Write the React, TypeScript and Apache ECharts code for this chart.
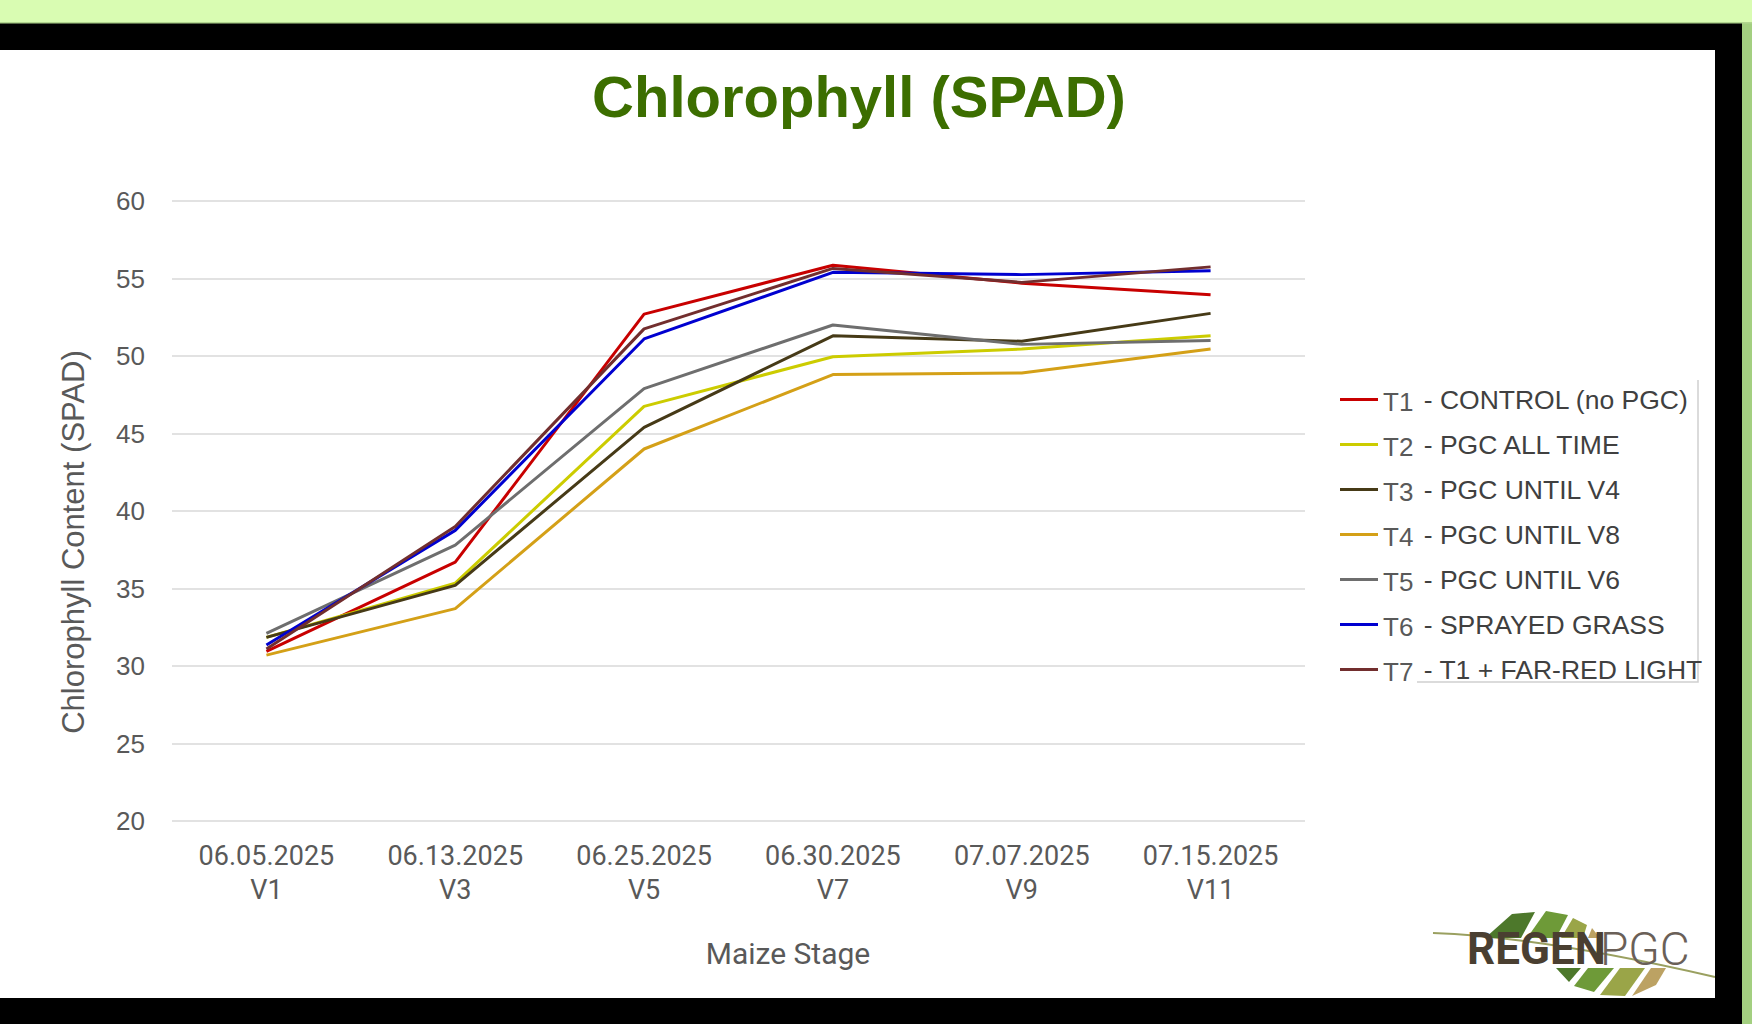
import React, { useEffect, useRef } from "react";
import * as echarts from "echarts";

// ---------- data ----------
const dates = ["06.05.2025", "06.13.2025", "06.25.2025", "06.30.2025", "07.07.2025", "07.15.2025"];
const stages = ["V1", "V3", "V5", "V7", "V9", "V11"];
const seriesNames = ["T1", "T2", "T3", "T4", "T5", "T6", "T7"];
const seriesLabels = [
  "CONTROL (no PGC)",
  "PGC ALL TIME",
  "PGC UNTIL V4",
  "PGC UNTIL V8",
  "PGC UNTIL V6",
  "SPRAYED GRASS",
  "T1 + FAR-RED LIGHT",
];
const t1 = [30.95, 36.7, 52.7, 55.85, 54.7, 53.95];
const t2 = [31.85, 35.35, 46.75, 49.95, 50.45, 51.3];
const t3 = [31.85, 35.2, 45.4, 51.3, 50.95, 52.75];
const t4 = [30.7, 33.7, 44.0, 48.8, 48.9, 50.45];
const t5 = [32.1, 37.8, 47.9, 52.0, 50.75, 51.0];
const t6 = [31.35, 38.75, 51.1, 55.4, 55.25, 55.5];
const t7 = [31.1, 39.0, 51.75, 55.65, 54.75, 55.75];
const seriesData = [t1, t2, t3, t4, t5, t6, t7];
const yMin = 20;
const yMax = 60;
const yStep = 5;
const titleText = "Chlorophyll (SPAD)";
const yTitle = "Chlorophyll Content (SPAD)";
const xTitle = "Maize Stage";

// ---------- styles ----------
const colors = ["#c80000", "#cccc00", "#463a17", "#d4a017", "#6e6e6e", "#0000d0", "#722e2e"];
const SANS = "'Liberation Sans', Arial, sans-serif";
const NARROW = "Roboto, 'Liberation Sans', sans-serif";

export default function App() {
  const ref = useRef<HTMLDivElement>(null);

  useEffect(() => {
    if (!ref.current) return;
    const chart = echarts.init(ref.current, null, { renderer: "svg" });

    const series = seriesNames.map((n, i) => ({
      name: n,
      type: "line",
      data: seriesData[i],
      symbol: "none",
      showSymbol: false,
      lineStyle: { width: 3, color: colors[i] },
      itemStyle: { color: colors[i] },
      z: 2 + i,
    }));

    const descByName: Record<string, string> = {};
    seriesNames.forEach((n, i) => (descByName[n] = seriesLabels[i]));

    const frame = [
      { type: "rect", shape: { x: 0, y: 0, width: 1752, height: 23 }, style: { fill: "#d9fcb2" }, z: 100 },
      { type: "rect", shape: { x: 0, y: 22, width: 1752, height: 1.5 }, style: { fill: "#b2d68f" }, z: 101 },
      { type: "rect", shape: { x: 0, y: 23, width: 1742, height: 27 }, style: { fill: "#000000" }, z: 100 },
      { type: "rect", shape: { x: 1715, y: 23, width: 27, height: 1001 }, style: { fill: "#000000" }, z: 100 },
      { type: "rect", shape: { x: 1742, y: 23, width: 10, height: 1001 }, style: { fill: "#a3cf80" }, z: 100 },
      { type: "rect", shape: { x: 0, y: 998, width: 1742, height: 26 }, style: { fill: "#000000" }, z: 100 },
    ];

    const logo = [
      {
        type: "bezierCurve",
        shape: { x1: 1433, y1: 933, cpx1: 1520, cpy1: 936, cpx2: 1620, cpy2: 955, x2: 1715, y2: 977 },
        style: { stroke: "#9aa060", lineWidth: 2, fill: "none" },
        z: 50,
      },
      { type: "polygon", shape: { points: [[1485, 938], [1521, 938], [1535, 912], [1512, 914]] }, style: { fill: "#4d782b" }, z: 51 },
      { type: "polygon", shape: { points: [[1527, 938], [1556, 938], [1568, 915], [1546, 911]] }, style: { fill: "#6e9a38" }, z: 51 },
      { type: "polygon", shape: { points: [[1561, 938], [1583, 938], [1587, 925], [1573, 918]] }, style: { fill: "#9aa548" }, z: 51 },
      { type: "polygon", shape: { points: [[1588, 938], [1600, 938], [1592, 928]] }, style: { fill: "#bca263" }, z: 51 },
      { type: "polygon", shape: { points: [[1556, 968], [1581, 968], [1569, 982]] }, style: { fill: "#4d782b" }, z: 51 },
      { type: "polygon", shape: { points: [[1588, 968], [1614, 968], [1594, 992], [1574, 986]] }, style: { fill: "#6e9a38" }, z: 51 },
      { type: "polygon", shape: { points: [[1620, 968], [1645, 968], [1625, 996], [1600, 995]] }, style: { fill: "#9aa548" }, z: 51 },
      { type: "polygon", shape: { points: [[1651, 968], [1666, 968], [1656, 985], [1632, 996]] }, style: { fill: "#bca263" }, z: 51 },
      {
        type: "text",
        x: 1467,
        y: 949,
        style: { text: "REGEN", fill: "#4a3f31", font: "bold 44px Roboto, sans-serif", align: "left", verticalAlign: "middle" },
        z: 52,
      },
      {
        type: "text",
        x: 1600,
        y: 949,
        style: { text: "PGC", fill: "#6a6058", font: "300 46px Roboto, sans-serif", align: "left", verticalAlign: "middle" },
        z: 52,
      },
    ];

    const texts = [
      {
        type: "text",
        x: 859,
        y: 96,
        style: { text: titleText, fill: "#3c6e00", font: `bold 58px ${SANS}`, align: "center", verticalAlign: "middle" },
      },
      {
        type: "text",
        x: 73,
        y: 542,
        rotation: Math.PI / 2,
        style: { text: yTitle, fill: "#595959", font: `31px ${SANS}`, align: "center", verticalAlign: "middle" },
      },
      {
        type: "text",
        x: 788,
        y: 953,
        style: { text: xTitle, fill: "#595959", font: `30px ${NARROW}`, align: "center", verticalAlign: "middle" },
      },
      {
        type: "polyline",
        shape: { points: [[1698, 380], [1698, 682], [1417, 682]] },
        style: { stroke: "#d0d0d0", lineWidth: 1.5, fill: "none" },
      },
    ];

    chart.setOption({
      animation: false,
      backgroundColor: "#ffffff",
      grid: { left: 172, right: 447, top: 201, bottom: 203, containLabel: false },
      xAxis: {
        type: "category",
        data: dates.map((d, i) => `${d}\n${stages[i]}`),
        boundaryGap: true,
        axisLine: { show: false },
        axisTick: { show: false },
        axisLabel: {
          color: "#595959",
          fontSize: 27,
          fontFamily: NARROW,
          lineHeight: 34,
          margin: 18,
          interval: 0,
        },
      },
      yAxis: {
        type: "value",
        min: yMin,
        max: yMax,
        interval: yStep,
        axisLine: { show: false },
        axisTick: { show: false },
        splitLine: { lineStyle: { color: "#d9d9d9", width: 1.5 } },
        axisLabel: { color: "#595959", fontSize: 26, fontFamily: SANS, margin: 27 },
      },
      legend: {
        orient: "vertical",
        left: 1335,
        top: 379,
        icon: "rect",
        itemWidth: 38,
        itemHeight: 3,
        itemGap: 14,
        data: seriesNames,
        formatter: (name: string) => `{t|${name}}{d| - ${descByName[name]}}`,
        textStyle: {
          rich: {
            t: { fontSize: 26, color: "#595959", fontFamily: SANS, lineHeight: 30, padding: [5, 3, 0, 0] },
            d: { fontSize: 26.5, color: "#404040", fontFamily: SANS, lineHeight: 30 },
          },
        },
      },
      graphic: { elements: [...frame, ...logo, ...texts] },
      series,
    });

    return () => chart.dispose();
  }, []);

  return (
    <div
      ref={ref}
      style={{ position: "fixed", left: 0, top: 0, width: 1752, height: 1024 }}
    />
  );
}
